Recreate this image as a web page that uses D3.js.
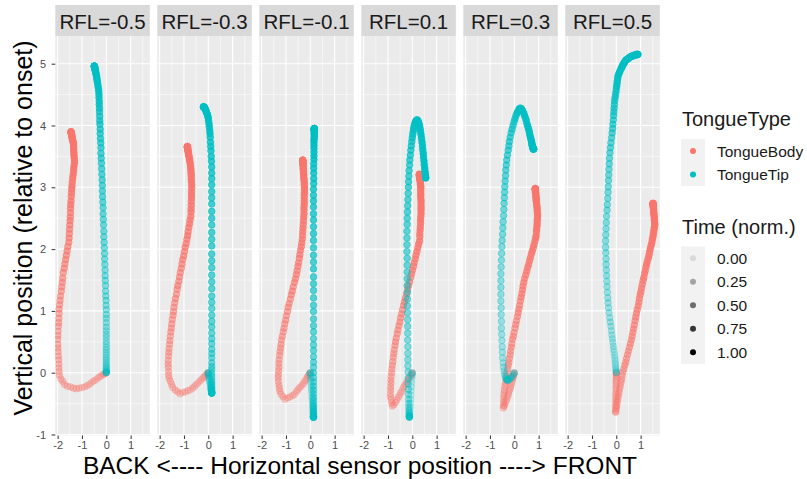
<!DOCTYPE html>
<html>
<head>
<meta charset="utf-8">
<script src="https://d3js.org/d3.v7.min.js"></script>
<style>
  body { margin: 0; background: #fff; }
  svg { display: block; font-family: "Liberation Sans", Arial, sans-serif; }
</style>
</head>
<body>
<div id="chart"></div>
<script>
// facet labels (one panel per RFL level)
const rflLabels = ["RFL=-0.5", "RFL=-0.3", "RFL=-0.1", "RFL=0.1", "RFL=0.3", "RFL=0.5"];

// normalised time of each sample (shared by every trajectory)
const timeNorm = [0,0.01,0.02,0.03,0.04,0.05,0.06,0.07,0.08,0.09,0.1,0.11,0.12,0.13,0.14,0.15,0.16,0.17,0.18,0.19,
  0.2,0.21,0.22,0.23,0.24,0.25,0.26,0.27,0.28,0.29,0.3,0.31,0.32,0.33,0.34,0.35,0.36,0.37,0.38,0.39,
  0.4,0.41,0.42,0.43,0.44,0.45,0.46,0.47,0.48,0.49,0.5,0.51,0.52,0.53,0.54,0.55,0.56,0.57,0.58,0.59,
  0.6,0.61,0.62,0.63,0.64,0.65,0.66,0.67,0.68,0.69,0.7,0.71,0.72,0.73,0.74,0.75,0.76,0.77,0.78,0.79,
  0.8,0.81,0.82,0.83,0.84,0.85,0.86,0.87,0.88,0.89,0.9,0.91,0.92,0.93,0.94,0.95,0.96,0.97,0.98,0.99,1];

// [horizontal, vertical] sensor positions
const bodyM05 = [[0,0],[0,0],[-.01,0],[-.03,-.01],[-.05,-.01],[-.08,-.02],[-.11,-.03],[-.15,-.03],[-.20,-.05],[-.25,-.06],
  [-.30,-.07],[-.35,-.09],[-.42,-.11],[-.49,-.13],[-.55,-.14],[-.63,-.17],[-.71,-.19],[-.79,-.21],[-.89,-.23],[-1.00,-.24],
  [-1.12,-.25],[-1.23,-.26],[-1.35,-.25],[-1.47,-.23],[-1.60,-.22],[-1.72,-.19],[-1.79,-.14],[-1.87,-.10],[-1.93,-.04],[-1.94,.02],
  [-1.95,.08],[-1.95,.14],[-1.96,.21],[-1.97,.27],[-1.98,.34],[-1.99,.40],[-1.99,.46],[-2.00,.54],[-1.99,.60],[-1.98,.67],
  [-1.97,.75],[-1.96,.81],[-1.95,.88],[-1.94,.96],[-1.94,1.03],[-1.92,1.10],[-1.90,1.17],[-1.88,1.24],[-1.85,1.32],[-1.83,1.39],
  [-1.81,1.46],[-1.79,1.53],[-1.77,1.62],[-1.73,1.69],[-1.70,1.76],[-1.67,1.83],[-1.64,1.90],[-1.61,1.97],[-1.58,2.04],[-1.54,2.11],
  [-1.53,2.18],[-1.52,2.25],[-1.51,2.32],[-1.50,2.39],[-1.49,2.46],[-1.48,2.52],[-1.47,2.59],[-1.47,2.66],[-1.46,2.72],[-1.45,2.78],
  [-1.44,2.85],[-1.43,2.91],[-1.42,2.97],[-1.41,3.02],[-1.40,3.08],[-1.38,3.14],[-1.37,3.19],[-1.35,3.24],[-1.34,3.29],[-1.33,3.34],
  [-1.31,3.39],[-1.31,3.44],[-1.32,3.48],[-1.33,3.52],[-1.33,3.56],[-1.34,3.60],[-1.34,3.64],[-1.35,3.67],[-1.35,3.71],[-1.37,3.74],
  [-1.38,3.76],[-1.40,3.79],[-1.41,3.81],[-1.42,3.83],[-1.42,3.85],[-1.43,3.86],[-1.44,3.87],[-1.44,3.88],[-1.45,3.89],[-1.45,3.89],
  [-1.45,3.90]];
const tipM05 = [[0,0],[0,0],[0,0],[0,0],[0,0],[0,.01],[0,.01],[0,.02],[0,.02],[0,.03],
  [0,.04],[0,.06],[0,.07],[0,.09],[0,.11],[0,.13],[0,.16],[0,.19],[0,.22],[0,.25],
  [0,.29],[0,.33],[0,.37],[0,.41],[0,.46],[0,.51],[0,.57],[0,.62],[0,.68],[0,.74],
  [0,.81],[0,.88],[0,.94],[0,1.02],[-.01,1.09],[-.01,1.17],[-.02,1.24],[-.03,1.32],[-.03,1.41],[-.04,1.49],
  [-.05,1.57],[-.05,1.66],[-.06,1.75],[-.07,1.84],[-.07,1.93],[-.08,2.02],[-.09,2.11],[-.10,2.20],[-.10,2.29],[-.11,2.39],
  [-.12,2.48],[-.13,2.57],[-.13,2.67],[-.14,2.76],[-.15,2.85],[-.16,2.94],[-.16,3.03],[-.17,3.12],[-.18,3.21],[-.19,3.30],
  [-.20,3.39],[-.21,3.47],[-.22,3.55],[-.22,3.64],[-.23,3.72],[-.24,3.79],[-.25,3.87],[-.25,3.94],[-.26,4.02],[-.27,4.08],
  [-.27,4.15],[-.28,4.22],[-.28,4.28],[-.29,4.34],[-.29,4.39],[-.30,4.45],[-.30,4.50],[-.31,4.55],[-.32,4.59],[-.34,4.63],
  [-.35,4.67],[-.37,4.71],[-.38,4.74],[-.39,4.77],[-.40,4.80],[-.42,4.83],[-.43,4.85],[-.44,4.87],[-.45,4.89],[-.46,4.90],
  [-.47,4.92],[-.47,4.93],[-.48,4.94],[-.48,4.94],[-.48,4.95],[-.49,4.95],[-.49,4.96],[-.49,4.96],[-.49,4.96],[-.49,4.96],
  [-.49,4.96]];

const bodyM03 = [[0,0],[0,0],[-.01,0],[-.02,-.01],[-.04,-.02],[-.06,-.02],[-.09,-.03],[-.12,-.05],[-.15,-.06],[-.19,-.08],
  [-.23,-.09],[-.28,-.11],[-.33,-.13],[-.39,-.15],[-.45,-.18],[-.52,-.20],[-.58,-.23],[-.65,-.25],[-.74,-.28],[-.84,-.29],
  [-.94,-.31],[-1.05,-.32],[-1.16,-.34],[-1.26,-.31],[-1.36,-.28],[-1.46,-.24],[-1.51,-.19],[-1.56,-.14],[-1.61,-.09],[-1.63,-.04],
  [-1.63,.02],[-1.64,.09],[-1.65,.14],[-1.64,.20],[-1.63,.27],[-1.62,.33],[-1.61,.39],[-1.59,.46],[-1.58,.52],[-1.56,.59],
  [-1.54,.66],[-1.52,.72],[-1.50,.79],[-1.48,.86],[-1.45,.93],[-1.43,.99],[-1.41,1.06],[-1.38,1.13],[-1.35,1.20],[-1.31,1.27],
  [-1.28,1.35],[-1.25,1.41],[-1.21,1.48],[-1.18,1.55],[-1.15,1.62],[-1.11,1.69],[-1.08,1.76],[-1.05,1.83],[-1.01,1.89],[-.98,1.96],
  [-.95,2.03],[-.91,2.09],[-.88,2.16],[-.85,2.22],[-.83,2.28],[-.80,2.35],[-.77,2.41],[-.75,2.47],[-.72,2.53],[-.71,2.60],
  [-.71,2.65],[-.70,2.71],[-.70,2.77],[-.69,2.83],[-.69,2.88],[-.69,2.93],[-.68,2.99],[-.68,3.04],[-.69,3.09],[-.70,3.13],
  [-.70,3.18],[-.71,3.22],[-.71,3.26],[-.72,3.30],[-.73,3.34],[-.74,3.38],[-.76,3.42],[-.77,3.45],[-.78,3.48],[-.80,3.51],
  [-.81,3.53],[-.82,3.56],[-.83,3.58],[-.84,3.60],[-.84,3.61],[-.85,3.63],[-.85,3.64],[-.86,3.65],[-.86,3.65],[-.86,3.66],
  [-.86,3.66]];
const tipM03 = [[0,0],[0,0],[0,0],[0,0],[0,-.01],[.01,-.02],[.01,-.03],[.02,-.05],[.03,-.06],[.04,-.08],
  [.04,-.10],[.05,-.13],[.06,-.15],[.08,-.18],[.09,-.20],[.10,-.23],[.10,-.25],[.11,-.27],[.12,-.28],[.13,-.30],
  [.13,-.31],[.14,-.32],[.14,-.33],[.14,-.33],[.14,-.33],
  [.14,-.33],[.14,-.33],[.14,-.33],[.14,-.33],[.14,-.32],[.14,-.32],[.14,-.31],[.14,-.30],[.14,-.28],[.14,-.26],
  [.14,-.24],[.14,-.21],[.14,-.18],[.14,-.15],[.14,-.11],[.14,-.06],[.14,-.01],[.14,.05],[.14,.10],[.14,.16],
  [.14,.24],[.14,.31],[.14,.38],[.14,.47],[.14,.55],[.14,.64],[.14,.74],[.14,.83],[.14,.93],[.14,1.04],
  [.14,1.14],[.14,1.24],[.14,1.36],[.14,1.47],[.14,1.58],[.14,1.70],[.14,1.81],[.14,1.92],[.14,2.05],[.14,2.16],
  [.14,2.27],[.14,2.39],[.14,2.50],[.14,2.61],[.14,2.73],[.14,2.83],[.14,2.93],[.14,3.04],[.14,3.14],[.14,3.23],
  [.14,3.33],[.13,3.42],[.12,3.50],[.11,3.59],[.10,3.66],[.09,3.73],[.08,3.81],[.07,3.87],[.06,3.92],[.04,3.98],
  [.03,4.03],[.01,4.08],[0,4.12],[-.02,4.15],[-.04,4.18],[-.07,4.21],[-.09,4.23],[-.11,4.25],[-.13,4.27],[-.15,4.28],
  [-.16,4.29],[-.17,4.29],[-.18,4.30],[-.19,4.30],[-.20,4.30],[-.20,4.30]];

const bodyM01 = [[0,0],[0,0],[-.01,-.01],[-.02,-.01],[-.03,-.02],[-.05,-.03],[-.07,-.04],[-.09,-.05],[-.12,-.07],[-.14,-.09],
  [-.18,-.11],[-.21,-.13],[-.25,-.15],[-.29,-.18],[-.34,-.20],[-.40,-.23],[-.46,-.25],[-.52,-.28],[-.58,-.31],[-.65,-.35],
  [-.73,-.37],[-.83,-.39],[-.93,-.41],[-1.04,-.43],[-1.12,-.39],[-1.20,-.35],[-1.25,-.30],[-1.27,-.25],[-1.29,-.20],[-1.31,-.14],
  [-1.32,-.08],[-1.31,-.03],[-1.30,.03],[-1.29,.09],[-1.29,.15],[-1.28,.21],[-1.26,.28],[-1.24,.34],[-1.22,.40],[-1.20,.46],
  [-1.18,.53],[-1.15,.59],[-1.11,.66],[-1.08,.72],[-1.05,.79],[-1.01,.85],[-.98,.92],[-.94,.99],[-.91,1.06],[-.87,1.12],
  [-.82,1.19],[-.78,1.26],[-.74,1.32],[-.70,1.39],[-.65,1.46],[-.61,1.52],[-.57,1.59],[-.54,1.65],[-.51,1.72],[-.48,1.78],
  [-.45,1.85],[-.43,1.91],[-.40,1.98],[-.37,2.04],[-.35,2.10],[-.33,2.16],[-.32,2.22],[-.31,2.28],[-.30,2.34],[-.29,2.40],
  [-.28,2.46],[-.27,2.52],[-.26,2.57],[-.26,2.63],[-.26,2.68],[-.25,2.73],[-.25,2.78],[-.25,2.83],[-.25,2.88],[-.24,2.92],
  [-.24,2.97],[-.24,3.01],[-.25,3.05],[-.25,3.09],[-.26,3.13],[-.27,3.16],[-.27,3.20],[-.28,3.23],[-.28,3.26],[-.29,3.29],
  [-.29,3.31],[-.29,3.34],[-.30,3.36],[-.30,3.38],[-.30,3.39],[-.30,3.41],[-.31,3.42],[-.31,3.43],[-.31,3.43],[-.31,3.44],
  [-.31,3.44]];
const tipM01 = [[0,0],[0,0],[0,0],[0,-.01],[0,-.02],[.01,-.04],[.01,-.07],[.02,-.10],[.02,-.14],[.03,-.18],
  [.04,-.23],[.05,-.28],[.06,-.33],[.07,-.39],[.08,-.44],[.09,-.49],[.10,-.54],[.11,-.58],[.11,-.62],[.12,-.65],
  [.12,-.68],[.13,-.70],[.13,-.71],[.13,-.72],[.13,-.72],
  [.13,-.72],[.13,-.72],[.13,-.72],[.13,-.72],[.13,-.71],[.13,-.71],[.13,-.70],[.13,-.69],[.13,-.67],[.13,-.65],
  [.13,-.63],[.13,-.60],[.13,-.57],[.13,-.54],[.13,-.50],[.13,-.45],[.13,-.40],[.13,-.34],[.13,-.28],[.13,-.22],
  [.13,-.15],[.13,-.08],[.13,.00],[.13,.09],[.13,.17],[.13,.26],[.13,.36],[.13,.45],[.13,.55],[.13,.66],
  [.13,.76],[.13,.87],[.13,.99],[.13,1.09],[.13,1.21],[.13,1.33],[.13,1.44],[.13,1.55],[.13,1.68],[.13,1.79],
  [.13,1.90],[.13,2.02],[.13,2.14],[.13,2.25],[.13,2.36],[.13,2.47],[.13,2.57],[.13,2.68],[.13,2.78],[.13,2.87],
  [.13,2.97],[.14,3.06],[.14,3.14],[.14,3.23],[.14,3.31],[.14,3.38],[.15,3.45],[.15,3.51],[.15,3.57],[.15,3.63],
  [.15,3.68],[.15,3.73],[.15,3.77],[.16,3.80],[.16,3.83],[.16,3.86],[.16,3.88],[.16,3.90],[.16,3.92],[.16,3.93],
  [.16,3.94],[.16,3.94],[.16,3.95],[.16,3.95],[.16,3.95],[.16,3.95]];

const bodyP01 = [[0,0],[0,0],[-.01,0],[-.02,-.01],[-.03,-.02],[-.04,-.03],[-.06,-.04],[-.08,-.05],[-.10,-.07],[-.13,-.09],
  [-.16,-.11],[-.19,-.13],[-.23,-.15],[-.27,-.18],[-.31,-.20],[-.35,-.23],[-.39,-.26],[-.43,-.30],[-.48,-.33],[-.53,-.37],
  [-.58,-.40],[-.63,-.44],[-.69,-.48],[-.76,-.52],[-.82,-.54],[-.84,-.49],[-.87,-.44],[-.90,-.39],[-.90,-.34],[-.89,-.28],
  [-.89,-.23],[-.88,-.17],[-.88,-.12],[-.87,-.06],[-.85,.00],[-.84,.06],[-.82,.12],[-.80,.18],[-.78,.25],[-.76,.31],
  [-.74,.37],[-.71,.44],[-.69,.50],[-.66,.56],[-.62,.63],[-.59,.69],[-.55,.76],[-.51,.82],[-.48,.89],[-.44,.95],
  [-.40,1.02],[-.36,1.09],[-.32,1.15],[-.28,1.21],[-.23,1.28],[-.19,1.35],[-.15,1.41],[-.11,1.47],[-.07,1.54],[-.03,1.60],
  [.01,1.66],[.05,1.72],[.08,1.78],[.12,1.84],[.15,1.90],[.19,1.96],[.23,2.02],[.26,2.08],[.30,2.13],[.31,2.20],
  [.31,2.25],[.32,2.31],[.33,2.36],[.34,2.42],[.34,2.47],[.35,2.52],[.36,2.57],[.36,2.62],[.36,2.66],[.36,2.70],
  [.36,2.75],[.36,2.79],[.35,2.83],[.35,2.87],[.35,2.90],[.35,2.94],[.35,2.98],[.35,3.01],[.34,3.04],[.33,3.06],
  [.33,3.09],[.32,3.11],[.31,3.13],[.31,3.15],[.30,3.16],[.30,3.17],[.30,3.18],[.29,3.19],[.29,3.20],[.29,3.21],
  [.29,3.21]];
const tipP01 = [[0,0],[0,0],[0,-.01],[0,-.02],[-.01,-.04],[-.01,-.07],[-.02,-.12],[-.03,-.17],[-.04,-.23],[-.05,-.29],
  [-.06,-.36],[-.07,-.43],[-.08,-.49],[-.09,-.55],[-.10,-.60],[-.11,-.65],[-.11,-.68],[-.12,-.70],[-.12,-.71],[-.12,-.72],
  [-.12,-.72],[-.12,-.72],[-.12,-.71],[-.13,-.70],[-.13,-.68],[-.13,-.65],[-.14,-.61],[-.14,-.56],[-.15,-.50],[-.15,-.43],
  [-.16,-.35],[-.16,-.27],[-.17,-.18],[-.17,-.09],[-.17,.01],[-.18,.11],[-.18,.21],[-.18,.31],[-.18,.42],[-.19,.53],
  [-.19,.64],[-.19,.75],[-.19,.86],[-.20,.97],[-.20,1.08],[-.20,1.19],[-.20,1.30],[-.21,1.41],[-.21,1.52],[-.21,1.63],
  [-.21,1.74],[-.21,1.85],[-.22,1.96],[-.22,2.07],[-.22,2.18],[-.22,2.29],[-.21,2.40],[-.21,2.50],[-.20,2.60],[-.19,2.70],
  [-.18,2.80],[-.17,2.90],[-.16,3.00],[-.15,3.09],[-.14,3.18],[-.13,3.27],[-.11,3.36],[-.10,3.44],[-.08,3.52],[-.06,3.60],
  [-.04,3.67],[-.02,3.74],[0,3.80],[.02,3.86],[.04,3.91],[.06,3.96],[.08,4.00],[.11,4.04],[.14,4.07],[.18,4.09],
  [.21,4.09],[.24,4.07],[.27,4.04],[.30,4.00],[.32,3.95],[.34,3.90],[.36,3.85],[.38,3.79],[.40,3.73],[.42,3.67],
  [.43,3.61],[.45,3.55],[.46,3.49],[.48,3.43],[.49,3.37],[.51,3.31],[.52,3.26],[.53,3.22],[.54,3.18],[.55,3.16],
  [.55,3.15]];

const bodyP03 = [[0,0],[0,0],[0,-.01],[-.01,-.01],[-.01,-.02],[-.02,-.03],[-.03,-.04],[-.04,-.06],[-.05,-.07],[-.06,-.09],
  [-.07,-.11],[-.09,-.14],[-.10,-.16],[-.12,-.19],[-.14,-.22],[-.16,-.25],[-.19,-.28],[-.22,-.31],[-.24,-.35],[-.27,-.38],
  [-.30,-.42],[-.34,-.46],[-.38,-.50],[-.42,-.54],[-.45,-.57],[-.44,-.53],[-.44,-.48],[-.43,-.43],[-.43,-.38],[-.42,-.33],
  [-.41,-.28],[-.39,-.22],[-.37,-.17],[-.34,-.11],[-.32,-.06],[-.30,.00],[-.27,.06],[-.25,.12],[-.22,.17],[-.20,.23],
  [-.17,.29],[-.15,.35],[-.12,.41],[-.10,.47],[-.07,.54],[-.04,.59],[-.01,.65],[.03,.72],[.06,.78],[.09,.84],
  [.13,.91],[.16,.97],[.19,1.03],[.22,1.09],[.25,1.16],[.28,1.22],[.31,1.28],[.34,1.34],[.36,1.40],[.39,1.46],
  [.42,1.52],[.47,1.58],[.51,1.64],[.55,1.70],[.59,1.75],[.63,1.81],[.66,1.86],[.70,1.92],[.74,1.97],[.78,2.02],
  [.81,2.07],[.85,2.13],[.88,2.18],[.90,2.22],[.91,2.28],[.92,2.32],[.93,2.37],[.94,2.41],[.94,2.46],[.95,2.50],
  [.96,2.54],[.95,2.58],[.94,2.62],[.94,2.66],[.93,2.69],[.92,2.72],[.91,2.76],[.90,2.79],[.90,2.81],[.89,2.84],
  [.89,2.86],[.88,2.89],[.88,2.91],[.87,2.92],[.87,2.94],[.87,2.95],[.87,2.96],[.86,2.97],[.86,2.97],[.86,2.98],
  [.86,2.98]];
const tipP03 = [[0,0],[0,0],[-.01,-.01],[-.02,-.02],[-.04,-.03],[-.06,-.05],[-.09,-.06],[-.12,-.08],[-.15,-.09],[-.18,-.10],
  [-.21,-.11],[-.24,-.11],[-.26,-.12],[-.28,-.12],[-.29,-.12],
  [-.30,-.12],[-.32,-.11],[-.35,-.09],[-.38,-.06],[-.40,-.02],[-.42,.03],[-.44,.09],[-.46,.16],[-.48,.24],[-.49,.33],
  [-.50,.42],[-.51,.52],[-.52,.62],[-.53,.72],[-.53,.83],[-.54,.94],[-.54,1.05],[-.55,1.16],[-.55,1.27],[-.55,1.38],
  [-.55,1.49],[-.55,1.60],[-.54,1.71],[-.53,1.82],[-.52,1.93],[-.51,2.04],[-.50,2.14],[-.48,2.24],[-.47,2.34],[-.46,2.44],
  [-.44,2.54],[-.43,2.64],[-.42,2.74],[-.41,2.83],[-.40,2.92],[-.39,3.01],[-.38,3.10],[-.36,3.19],[-.35,3.28],[-.33,3.36],
  [-.31,3.44],[-.28,3.52],[-.25,3.60],[-.22,3.67],[-.20,3.74],[-.17,3.81],[-.13,3.88],[-.09,3.94],[-.05,4.00],[-.01,4.06],
  [.03,4.11],[.07,4.16],[.11,4.20],[.15,4.23],[.19,4.26],[.23,4.28],[.27,4.28],[.31,4.26],[.35,4.23],[.39,4.20],
  [.42,4.16],[.46,4.12],[.49,4.08],[.52,4.03],[.55,3.99],[.58,3.95],[.61,3.91],[.63,3.87],[.65,3.83],[.67,3.80],
  [.69,3.77],[.71,3.74],[.72,3.71],[.73,3.69],[.74,3.67],[.75,3.66],[.76,3.65],[.77,3.64],[.77,3.63],[.78,3.63],
  [.78,3.62],[.79,3.62],[.79,3.62],[.79,3.62],[.79,3.62],[.79,3.62]];

const bodyP05 = [[0,0],[0,0],[0,0],[0,-.01],[0,-.02],[0,-.03],[0,-.04],[0,-.06],[0,-.08],[0,-.09],
  [-.01,-.12],[-.01,-.14],[-.01,-.16],[-.01,-.19],[-.01,-.22],[-.01,-.25],[-.01,-.28],[-.01,-.32],[-.02,-.35],[-.02,-.39],
  [-.02,-.43],[-.02,-.47],[-.02,-.51],[-.03,-.55],[-.03,-.60],[-.03,-.64],[-.02,-.63],[0,-.58],[.02,-.53],[.04,-.48],
  [.06,-.43],[.08,-.38],[.11,-.33],[.13,-.27],[.16,-.22],[.19,-.16],[.22,-.11],[.24,-.05],[.27,.01],[.31,.06],
  [.35,.12],[.39,.17],[.42,.23],[.46,.29],[.50,.35],[.54,.41],[.58,.47],[.62,.53],[.65,.59],[.68,.65],
  [.71,.71],[.74,.77],[.77,.84],[.80,.90],[.83,.96],[.86,1.02],[.90,1.08],[.93,1.14],[.95,1.20],[.98,1.26],
  [1.01,1.31],[1.04,1.37],[1.07,1.43],[1.10,1.49],[1.13,1.54],[1.16,1.60],[1.19,1.65],[1.22,1.71],[1.25,1.76],[1.28,1.81],
  [1.32,1.86],[1.35,1.91],[1.37,1.96],[1.40,2.01],[1.43,2.06],[1.46,2.10],[1.48,2.15],[1.50,2.19],[1.52,2.23],[1.53,2.27],
  [1.55,2.31],[1.56,2.35],[1.58,2.39],[1.58,2.42],[1.57,2.46],[1.56,2.49],[1.56,2.52],[1.55,2.55],[1.54,2.58],[1.54,2.60],
  [1.53,2.62],[1.53,2.65],[1.52,2.67],[1.52,2.68],[1.52,2.70],[1.52,2.71],[1.51,2.72],[1.51,2.73],[1.51,2.73],[1.51,2.74],
  [1.51,2.74]];
const tipP05 = [[0,0],[0,0],[0,.01],[-.01,.02],[-.01,.03],[-.01,.05],[-.02,.07],[-.03,.10],[-.03,.13],[-.04,.16],
  [-.05,.20],[-.06,.24],[-.07,.28],[-.09,.33],[-.11,.38],[-.12,.43],[-.14,.49],[-.16,.55],[-.18,.61],[-.20,.68],
  [-.22,.75],[-.25,.82],[-.27,.89],[-.30,.97],[-.32,1.05],[-.34,1.13],[-.35,1.21],[-.37,1.30],[-.38,1.39],[-.39,1.48],
  [-.40,1.57],[-.41,1.66],[-.42,1.75],[-.42,1.84],[-.43,1.94],[-.44,2.03],[-.44,2.13],[-.43,2.23],[-.42,2.33],[-.41,2.43],
  [-.40,2.53],[-.38,2.63],[-.37,2.72],[-.35,2.82],[-.34,2.92],[-.33,3.01],[-.32,3.11],[-.31,3.20],[-.30,3.29],[-.29,3.38],
  [-.28,3.47],[-.26,3.56],[-.24,3.64],[-.22,3.72],[-.19,3.80],[-.17,3.88],[-.15,3.95],[-.14,4.02],[-.12,4.09],[-.11,4.16],
  [-.10,4.22],[-.09,4.28],[-.08,4.34],[-.07,4.40],[-.05,4.45],[-.03,4.50],[-.01,4.55],[0,4.60],[.02,4.64],[.03,4.68],
  [.04,4.72],[.06,4.76],[.07,4.80],[.10,4.83],[.13,4.86],[.16,4.89],[.20,4.92],[.22,4.94],[.25,4.96],[.27,4.98],
  [.30,5.00],[.33,5.02],[.35,5.03],[.38,5.05],[.41,5.06],[.44,5.07],[.48,5.08],[.51,5.09],[.55,5.10],[.58,5.11],
  [.62,5.12],[.65,5.12],[.69,5.13],[.72,5.13],[.75,5.14],[.78,5.14],[.81,5.14],[.83,5.15],[.85,5.15],[.87,5.15],
  [.89,5.15]];

const xTicks = [-2, -1, 0, 1];
const xMinor = [-1.5, -0.5, 0.5, 1.5];
const yTicks = [-1, 0, 1, 2, 3, 4, 5];
const yMinor = [-0.5, 0.5, 1.5, 2.5, 3.5, 4.5];
const typeNames = ["TongueBody", "TongueTip"];
const typeColors = ["#F8766D", "#00BFC4"];
const timeBreaks = [0, 0.25, 0.5, 0.75, 1];

const panels = [
  { label: rflLabels[0], body: bodyM05, tip: tipM05 },
  { label: rflLabels[1], body: bodyM03, tip: tipM03 },
  { label: rflLabels[2], body: bodyM01, tip: tipM01 },
  { label: rflLabels[3], body: bodyP01, tip: tipP01 },
  { label: rflLabels[4], body: bodyP03, tip: tipP03 },
  { label: rflLabels[5], body: bodyP05, tip: tipP05 }
];

const width = 807, height = 479;
const panelX0 = 55.3, panelW = 94.5, panelStep = 102;
const stripTop = 5, plotTop = 36, plotBottom = 435.5;

const svg = d3.select("#chart")
  .append("svg")
  .attr("width", width)
  .attr("height", height);

const y = d3.scaleLinear().domain([-1.016, 5.448]).range([plotBottom, plotTop]);
const alpha = d3.scaleLinear().domain([0, 1]).range([0.1, 1]);

panels.forEach((p, i) => {
  const left = panelX0 + i * panelStep;
  const x = d3.scaleLinear().domain([-2.096, 1.788]).range([left, left + panelW]);
  const g = svg.append("g");

  g.append("rect")
    .attr("x", left).attr("y", plotTop)
    .attr("width", panelW).attr("height", plotBottom - plotTop)
    .attr("fill", "#EBEBEB");

  // grid lines
  g.selectAll(".xmin").data(xMinor).join("line")
    .attr("x1", d => x(d)).attr("x2", d => x(d))
    .attr("y1", plotTop).attr("y2", plotBottom)
    .attr("stroke", "#fff").attr("stroke-width", 0.55);
  g.selectAll(".ymin").data(yMinor).join("line")
    .attr("x1", left).attr("x2", left + panelW)
    .attr("y1", d => y(d)).attr("y2", d => y(d))
    .attr("stroke", "#fff").attr("stroke-width", 0.55);
  g.selectAll(".xmaj").data(xTicks).join("line")
    .attr("x1", d => x(d)).attr("x2", d => x(d))
    .attr("y1", plotTop).attr("y2", plotBottom)
    .attr("stroke", "#fff").attr("stroke-width", 1.1);
  g.selectAll(".ymaj").data(yTicks).join("line")
    .attr("x1", left).attr("x2", left + panelW)
    .attr("y1", d => y(d)).attr("y2", d => y(d))
    .attr("stroke", "#fff").attr("stroke-width", 1.1);

  // strip
  g.append("rect")
    .attr("x", left).attr("y", stripTop)
    .attr("width", panelW).attr("height", plotTop - stripTop)
    .attr("fill", "#D9D9D9");
  g.append("text")
    .attr("x", left + panelW / 2).attr("y", 29)
    .attr("text-anchor", "middle")
    .attr("font-size", 20.5)
    .attr("fill", "#1A1A1A")
    .text(p.label);

  // points, clipped to the panel
  svg.append("clipPath").attr("id", "clip" + i)
    .append("rect")
    .attr("x", left).attr("y", plotTop)
    .attr("width", panelW).attr("height", plotBottom - plotTop);
  const pts = g.append("g").attr("clip-path", `url(#clip${i})`);
  [p.body, p.tip].forEach((series, k) => {
    pts.append("g").selectAll("circle")
      .data(series)
      .join("circle")
      .attr("cx", d => x(d[0]))
      .attr("cy", d => y(d[1]))
      .attr("r", 3.3)
      .attr("fill", typeColors[k])
      .attr("stroke", typeColors[k])
      .attr("stroke-width", 0.9)
      .attr("fill-opacity", (d, j) => alpha(timeNorm[j] ?? 1))
      .attr("stroke-opacity", (d, j) => alpha(timeNorm[j] ?? 1));
  });

  // x axis
  const ax = svg.append("g")
    .attr("transform", `translate(0,${plotBottom})`)
    .call(d3.axisBottom(x).tickValues(xTicks).tickSize(3.5).tickPadding(2).tickFormat(d => String(d)));
  ax.select(".domain").remove();
  ax.attr("font-family", null).attr("font-size", 11);
  ax.selectAll("line").attr("stroke", "#333333").attr("stroke-width", 1);
  ax.selectAll("text").attr("fill", "#4D4D4D");
});

// y axis on the first panel
const ay = svg.append("g")
  .attr("transform", `translate(${panelX0},0)`)
  .call(d3.axisLeft(y).tickValues(yTicks).tickSize(3.7).tickPadding(5.5).tickFormat(d => String(d)));
ay.select(".domain").remove();
ay.attr("font-family", null).attr("font-size", 11);
ay.selectAll("line").attr("stroke", "#333333").attr("stroke-width", 1);
ay.selectAll("text").attr("fill", "#4D4D4D");

// axis titles
svg.append("text")
  .attr("x", 360).attr("y", 474)
  .attr("text-anchor", "middle")
  .attr("font-size", 24.5)
  .text("BACK <---- Horizontal sensor position ----> FRONT");
svg.append("text")
  .attr("transform", "translate(32,228) rotate(-90)")
  .attr("text-anchor", "middle")
  .attr("font-size", 25)
  .text("Vertical position (relative to onset)");

// legends
const leg = svg.append("g");
leg.append("text").attr("x", 682).attr("y", 126).attr("font-size", 20).attr("fill", "#1A1A1A").text("TongueType");
leg.append("rect").attr("x", 681).attr("y", 139).attr("width", 24).attr("height", 47).attr("fill", "#F2F2F2");
typeNames.forEach((n, k) => {
  const cy = 151 + k * 23.5;
  leg.append("circle").attr("cx", 693).attr("cy", cy).attr("r", 3).attr("fill", typeColors[k]);
  leg.append("text").attr("x", 717).attr("y", cy).attr("dy", "0.36em")
    .attr("font-size", 15.5).attr("fill", "#1A1A1A").text(n);
});

leg.append("text").attr("x", 682).attr("y", 233.5).attr("font-size", 20).attr("fill", "#1A1A1A").text("Time (norm.)");
leg.append("rect").attr("x", 681).attr("y", 246.5).attr("width", 24).attr("height", 117.5).attr("fill", "#F2F2F2");
timeBreaks.forEach((t, k) => {
  const cy = 258.3 + k * 23.5;
  leg.append("circle").attr("cx", 693).attr("cy", cy).attr("r", 3)
    .attr("fill", "#000").attr("fill-opacity", alpha(t));
  leg.append("text").attr("x", 717).attr("y", cy).attr("dy", "0.36em")
    .attr("font-size", 15.5).attr("fill", "#1A1A1A").text(d3.format(".2f")(t));
});
</script>
</body>
</html>
